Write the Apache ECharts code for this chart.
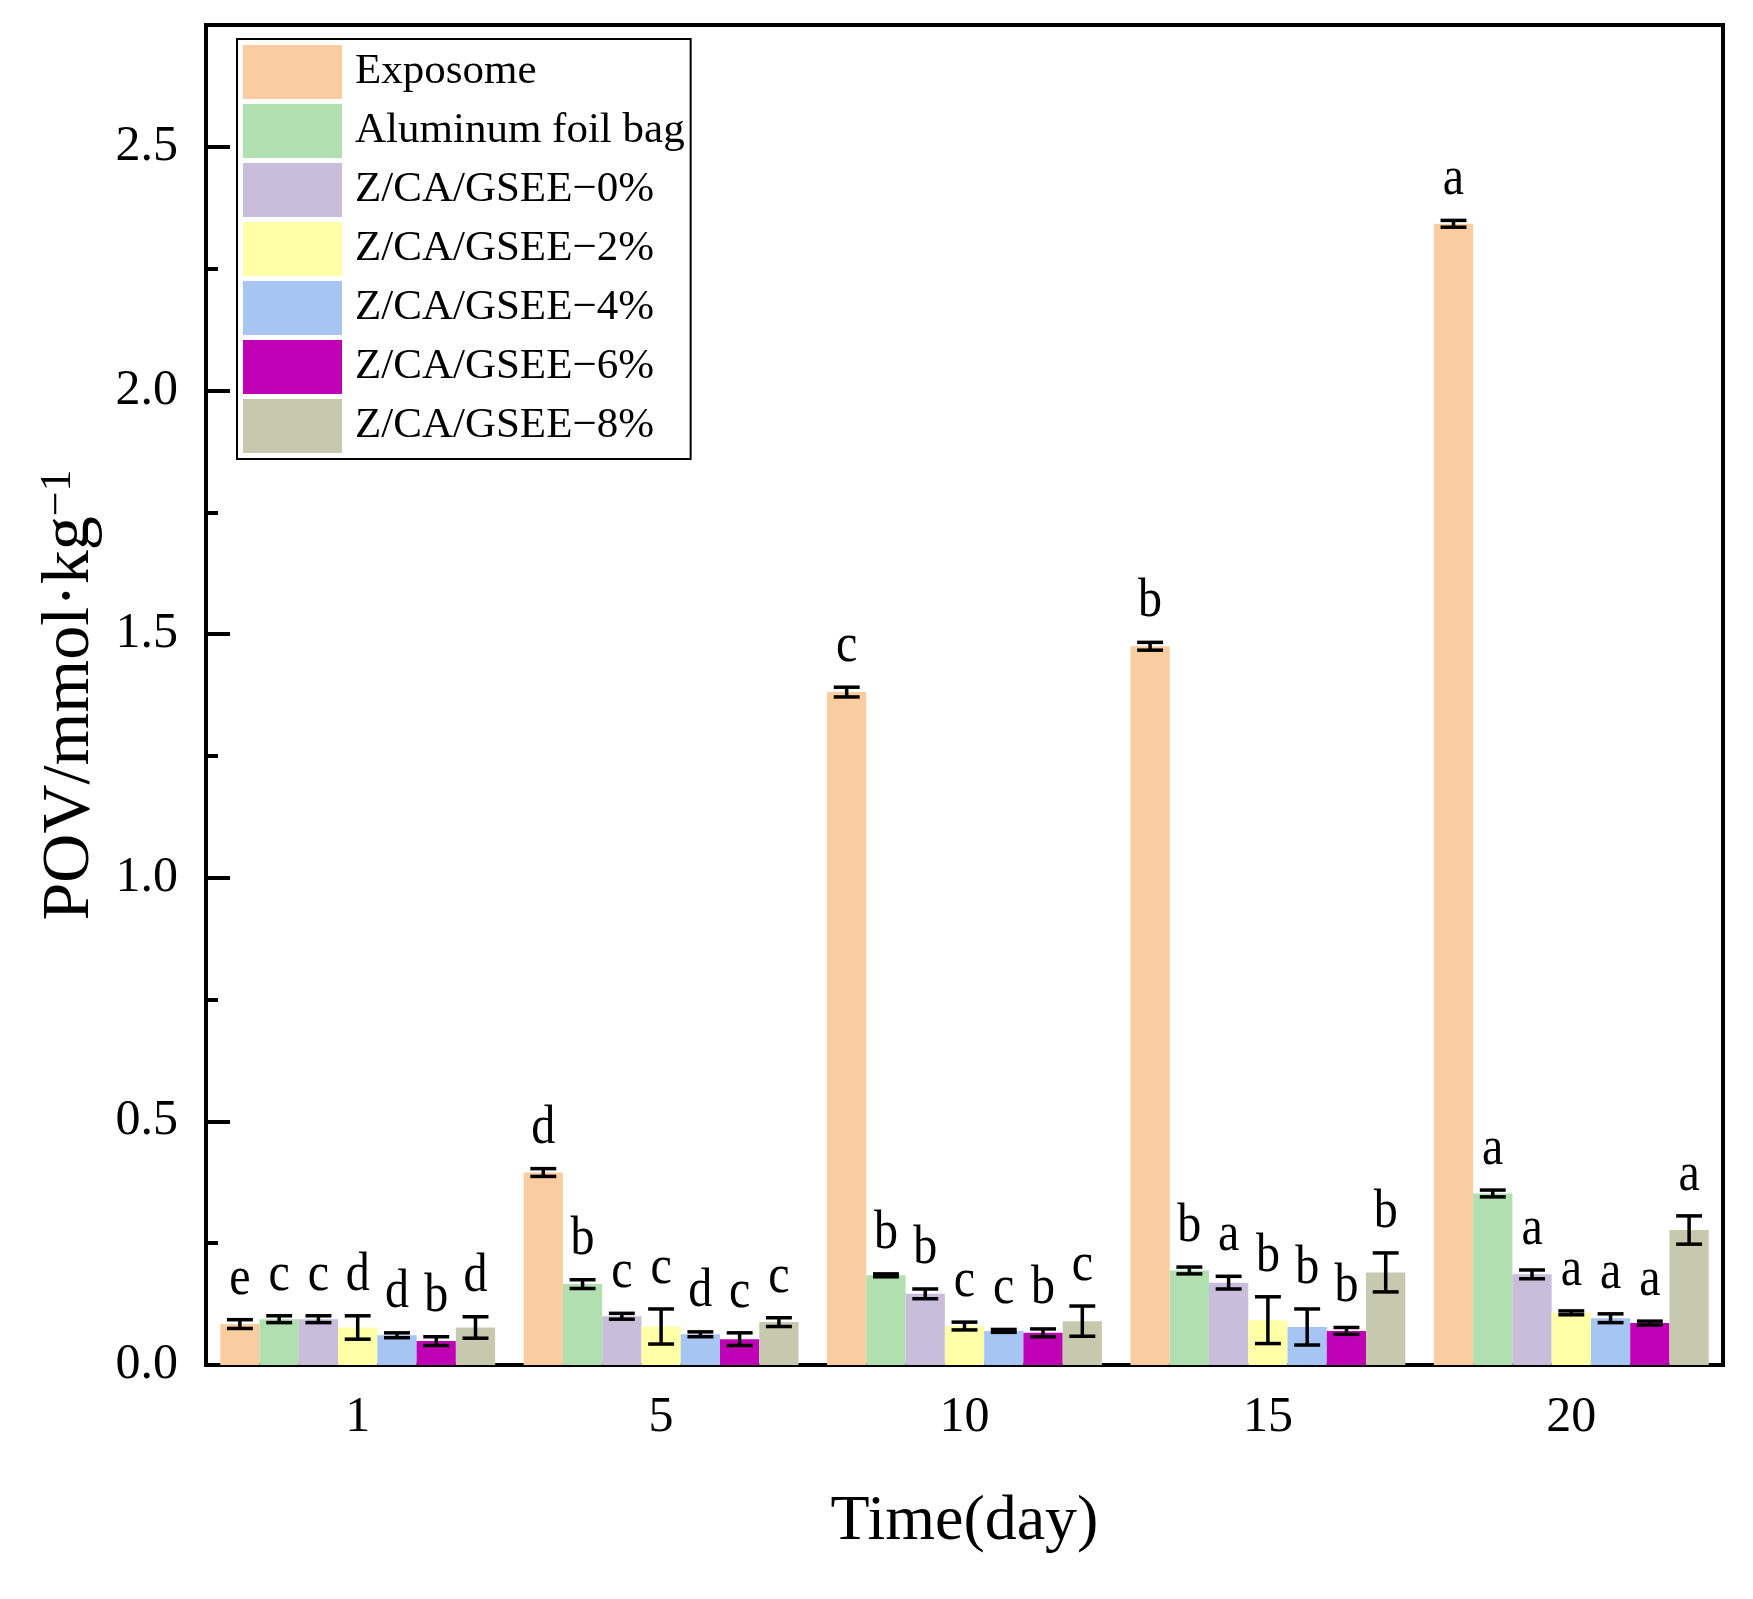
<!DOCTYPE html>
<html><head><meta charset="utf-8">
<script src="https://cdn.jsdelivr.net/npm/echarts@6/dist/echarts.min.js"></script>
<style>html,body{margin:0;padding:0;background:#fff}#c{width:1753px;height:1599px}</style>
</head><body><div id="c"></div>
<script>
const days = ['1', '5', '10', '15', '20'];
const seriesNames = ['Exposome', 'Aluminum foil bag', 'Z/CA/GSEE\u22120%', 'Z/CA/GSEE\u22122%', 'Z/CA/GSEE\u22124%', 'Z/CA/GSEE\u22126%', 'Z/CA/GSEE\u22128%'];
const colors = ['#FACDA0', '#B1DFB0', '#C9BDDB', '#FFFFA8', '#A7C5F3', '#BF00B5', '#C7C9AF'];

const exposome = [0.084, 0.395, 1.381, 1.475, 2.342];
const exposomeErr = [0.009, 0.008, 0.010, 0.008, 0.007];
const exposomeSig = ['e', 'd', 'c', 'b', 'a'];

const foilBag = [0.094, 0.166, 0.184, 0.194, 0.352];
const foilBagErr = [0.007, 0.009, 0.003, 0.007, 0.007];
const foilBagSig = ['c', 'b', 'b', 'b', 'a'];

const gsee0 = [0.094, 0.100, 0.146, 0.169, 0.186];
const gsee0Err = [0.007, 0.006, 0.010, 0.013, 0.009];
const gsee0Sig = ['c', 'c', 'b', 'a', 'a'];

const gsee2 = [0.077, 0.079, 0.080, 0.092, 0.107];
const gsee2Err = [0.024, 0.036, 0.008, 0.048, 0.004];
const gsee2Sig = ['d', 'c', 'c', 'b', 'a'];

const gsee4 = [0.061, 0.063, 0.070, 0.078, 0.096];
const gsee4Err = [0.005, 0.005, 0.003, 0.037, 0.009];
const gsee4Sig = ['d', 'd', 'c', 'b', 'a'];

const gsee6 = [0.049, 0.053, 0.066, 0.070, 0.086];
const gsee6Err = [0.009, 0.013, 0.008, 0.007, 0.004];
const gsee6Sig = ['b', 'c', 'b', 'b', 'a'];

const gsee8 = [0.077, 0.088, 0.090, 0.190, 0.277];
const gsee8Err = [0.022, 0.009, 0.031, 0.040, 0.029];
const gsee8Sig = ['d', 'c', 'c', 'b', 'a'];

const values = [exposome, foilBag, gsee0, gsee2, gsee4, gsee6, gsee8];
const errors = [exposomeErr, foilBagErr, gsee0Err, gsee2Err, gsee4Err, gsee6Err, gsee8Err];
const sigs = [exposomeSig, foilBagSig, gsee0Sig, gsee2Sig, gsee4Sig, gsee6Sig, gsee8Sig];

const FONT = '"Liberation Serif", "Times New Roman", serif';
const GAP = 0.094;
const N = seriesNames.length;

const chart = echarts.init(document.getElementById('c'), null, {renderer: 'canvas'});

const series = [];
values.forEach((vals, i) => {
  series.push({
    type: 'bar', name: seriesNames[i], data: vals,
    itemStyle: {color: colors[i]},
    barGap: '0%', barCategoryGap: (GAP * 100) + '%',
    z: 2
  });
});
values.forEach((vals, i) => {
  series.push({
    type: 'custom', name: 'err' + i,
    data: vals.map((v, k) => [k, v, errors[i][k]]),
    encode: {x: 0, y: 1},
    z: 5,
    renderItem: function (params, api) {
      const k = api.value(0);
      const v = api.value(1);
      const e = api.value(2);
      const base = api.coord([k, v]);
      const band = api.size([1, 0])[0];
      const bw = band * (1 - GAP) / N;
      const x = base[0] + (i - (N - 1) / 2) * bw;
      const yt = api.coord([k, v + e])[1];
      const yb = api.coord([k, v - e])[1];
      const hw = bw * 0.33;
      const ls = {stroke: '#000', lineWidth: 3.5};
      const ty = yt - 13;
      return {
        type: 'group',
        children: [
          {type: 'line', shape: {x1: x, y1: yt, x2: x, y2: yb}, style: ls},
          {type: 'line', shape: {x1: x - hw, y1: yt, x2: x + hw, y2: yt}, style: ls},
          {type: 'line', shape: {x1: x - hw, y1: yb, x2: x + hw, y2: yb}, style: ls},
          {type: 'text', x: x, y: ty, scaleY: 1.15, style: {
            text: sigs[i][params.dataIndex], x: 0, y: 0,
            fontSize: 48, fontFamily: FONT, fill: '#000',
            align: 'center', verticalAlign: 'bottom'
          }}
        ]
      };
    }
  });
});

const option = {
  backgroundColor: '#fff',
  animation: false,
  grid: {left: 206, right: 30, top: 25, bottom: 234, show: true, borderColor: '#000', borderWidth: 4, containLabel: false},
  legend: {
    data: seriesNames, orient: 'vertical', left: 237, top: 39,
    itemWidth: 99, itemHeight: 54, itemGap: 5, padding: [6, 6, 6, 6],
    borderColor: '#000', borderWidth: 2, icon: 'rect', selectedMode: false,
    textStyle: {fontFamily: FONT, fontSize: 43, color: '#000', padding: [0, 0, 0, 8]}
  },
  xAxis: {
    type: 'category', data: days,
    axisLine: {show: true, lineStyle: {color: '#000', width: 4}},
    axisTick: {show: false},
    axisLabel: {fontFamily: FONT, fontSize: 50, color: '#000', margin: 28},
    splitLine: {show: false},
    name: 'Time(day)', nameLocation: 'middle', nameGap: 125,
    nameTextStyle: {fontFamily: FONT, fontSize: 64, color: '#000'}
  },
  yAxis: {
    type: 'value', min: 0, max: 2.75, interval: 0.5,
    axisLine: {show: true, lineStyle: {color: '#000', width: 4}},
    axisTick: {show: true, inside: true, length: 24, lineStyle: {color: '#000', width: 4}},
    minorTick: {show: true, splitNumber: 2, length: 12, lineStyle: {color: '#000', width: 4}},
    axisLabel: {
      fontFamily: FONT, fontSize: 50, color: '#000', margin: 28, showMaxLabel: false,
      formatter: function (v) { return v < 2.7 ? v.toFixed(1) : ''; }
    },
    splitLine: {show: false},
    minorSplitLine: {show: false},
    name: 'POV/mmol\u00b7kg{s|\u22121}', nameLocation: 'middle', nameGap: 100, nameRotate: 90,
    nameTextStyle: {
      fontFamily: FONT, fontSize: 68, color: '#000',
      rich: {s: {fontFamily: FONT, fontSize: 44, color: '#000', verticalAlign: 'top'}}
    }
  },
  series: series
};
chart.setOption(option);
</script>
</body></html>
